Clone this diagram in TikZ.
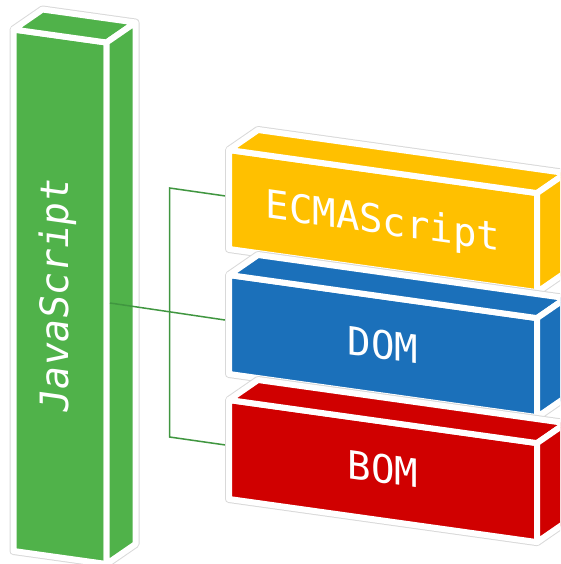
\documentclass[tikz,border=0pt]{standalone}
\usepackage{fontspec}
\newfontfamily\blockfont{DejaVu Sans Mono}
\definecolor{jsgreen}{RGB}{80,178,74}
\definecolor{ecmayellow}{RGB}{255,192,0}
\definecolor{domblue}{RGB}{27,112,186}
\definecolor{bomred}{RGB}{208,0,0}
\definecolor{linkgreen}{RGB}{64,150,64}
% oblique projection: slope of the front faces and depth offset
\newcommand\skw{0.14}
\newcommand\blkdx{29}
\newcommand\blkdy{20}
% #1,#2 front top-left corner, #3 width, #4 height, #5 colour
\newcommand\drawblock[5]{%
  \path[halo] (#1,#2) -- ++(\blkdx,-\blkdy) -- ++(#3,{#3*\skw}) -- ++(0,#4)
    -- ++(-\blkdx,\blkdy) -- ++(-#3,{-#3*\skw}) -- cycle;
  \path[face,fill=#5] (#1,#2) -- ++(#3,{#3*\skw}) -- ++(0,#4)
    -- ++(-#3,{-#3*\skw}) -- cycle;
  \path[face,fill=#5] (#1,#2) -- ++(\blkdx,-\blkdy) -- ++(#3,{#3*\skw})
    -- ++(-\blkdx,\blkdy) -- cycle;
  \path[face,fill=#5] ({#1+#3},{#2+#3*\skw}) -- ++(\blkdx,-\blkdy) -- ++(0,#4)
    -- ++(-\blkdx,\blkdy) -- cycle;
}
\begin{document}
\begin{tikzpicture}[x=1pt,y=-1pt,
  halo/.style={draw=gray!30,line width=8pt,fill=white,line join=round},
  face/.style={draw=white,line width=6pt,line join=round},
  blocktext/.style={text=white,font=\blockfont\fontsize{39}{39}\selectfont,inner sep=0pt},
  link/.style={draw=linkgreen,line width=1.5pt}]
\useasboundingbox (0,0) rectangle (560,564);
\clip (0,0) rectangle (560,564);

% tall JavaScript column
\drawblock{13.5}{29.5}{93}{521.5}{jsgreen}
\node[blocktext,yslant=-\skw,rotate=90] (js) at (58,296) {JavaScript};

% connector ports
\coordinate (js-port) at (110,303);
\coordinate (ecma-port) at (229,196.5);
\coordinate (dom-port) at (229,320.6);
\coordinate (bom-port) at (229,445.5);
\coordinate (bus-top) at (169.5,188);
\coordinate (bus-bot) at (169.5,437);
\draw[link] (js-port) -- (dom-port);
\draw[link] (ecma-port) -- (bus-top) -- (bus-bot) -- (bom-port);

% the three parts
\drawblock{229}{150}{308}{99}{ecmayellow}
\node[blocktext,yslant=-\skw] (ecma) at (383,223.5) {ECMAScript};
\drawblock{229}{275}{308}{99}{domblue}
\node[blocktext,yslant=-\skw] (dom) at (383,345) {DOM};
\drawblock{229}{400}{308}{99}{bomred}
\node[blocktext,yslant=-\skw] (bom) at (383,469) {BOM};
\end{tikzpicture}
\end{document}
